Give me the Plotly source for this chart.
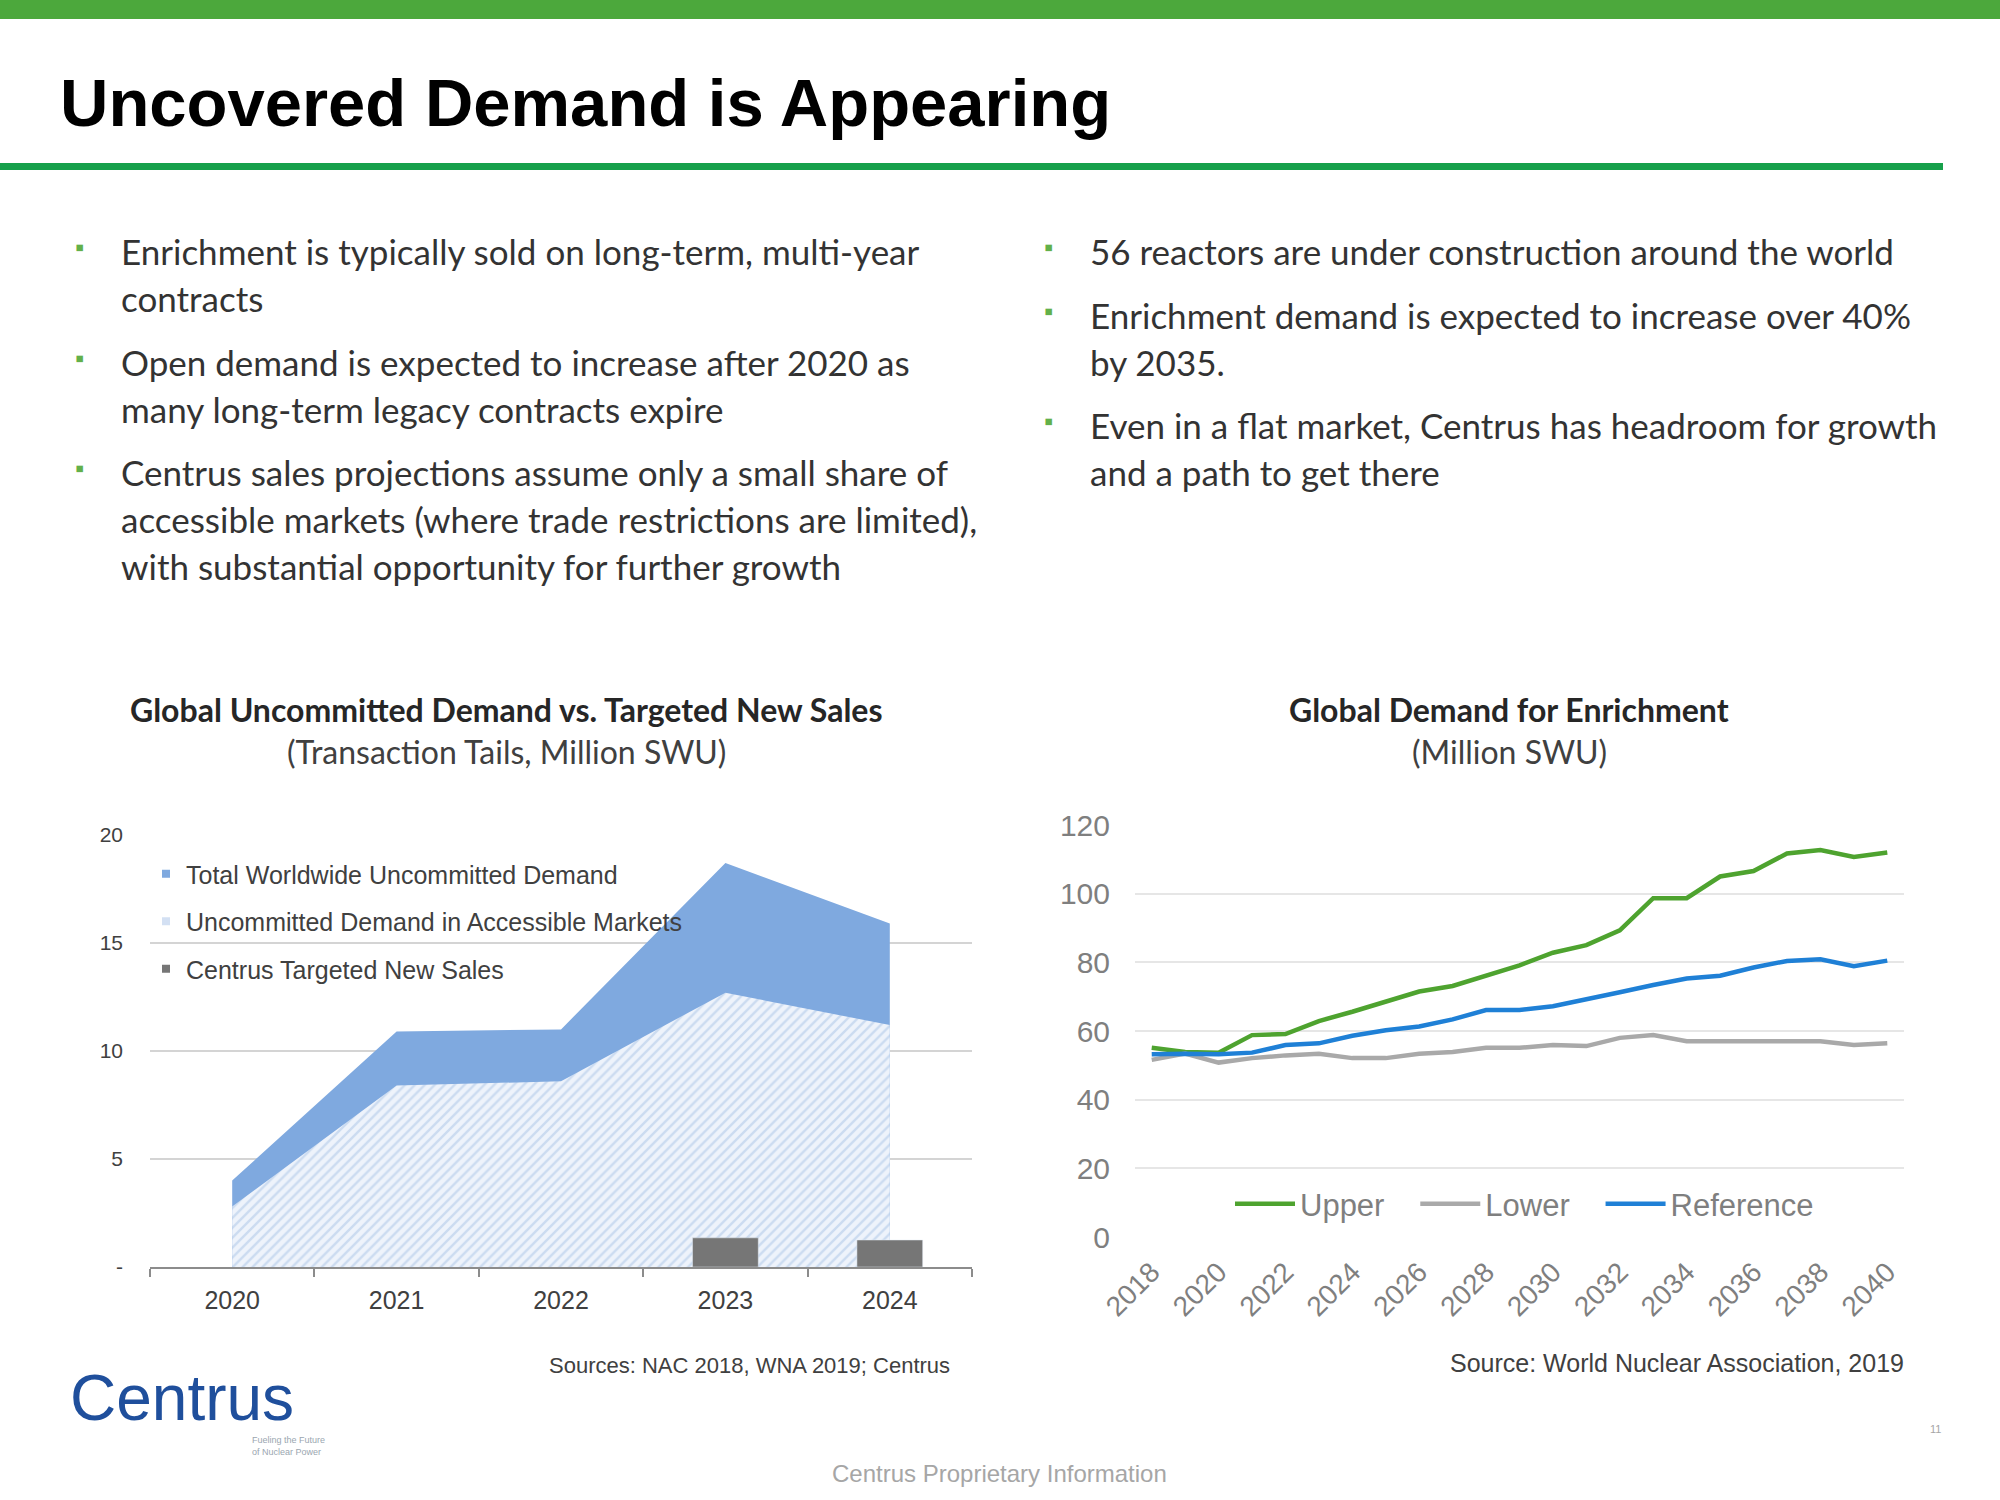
import plotly.graph_objects as go

# ---------------- data ----------------
left_years = ["2020", "2021", "2022", "2023", "2024"]
total_demand = [4.0, 10.9, 11.0, 18.7, 15.9]
accessible_demand = [2.8, 8.4, 8.6, 12.7, 11.2]
centrus_sales = [None, None, None, 1.35, 1.25]
left_yticks = [0, 5, 10, 15, 20]
left_yticktext = ["-", "5", "10", "15", "20"]

right_years = [2018, 2019, 2020, 2021, 2022, 2023, 2024, 2025, 2026, 2027, 2028, 2029,
               2030, 2031, 2032, 2033, 2034, 2035, 2036, 2037, 2038, 2039, 2040]
upper = [55.1, 53.9, 53.7, 58.8, 59.1, 62.9, 65.6, 68.5, 71.5, 73.1, 76.1, 79.1,
         82.8, 85.0, 89.3, 98.7, 98.7, 105.0, 106.6, 111.7, 112.7, 110.7, 112.0]
lower = [51.6, 53.4, 50.8, 52.1, 52.9, 53.4, 52.1, 52.1, 53.4, 53.9, 55.1, 55.1,
         55.9, 55.6, 58.0, 58.8, 57.0, 57.0, 57.0, 57.3, 57.0, 55.9, 56.4]
reference = [53.2, 53.4, 53.2, 53.7, 55.9, 56.4, 58.6, 60.2, 61.3, 63.4, 66.1, 66.1,
             67.2, 69.4, 71.3, 73.4, 75.3, 76.1, 78.5, 80.4, 80.9, 78.9, 80.5]

slide_title = "Uncovered Demand is Appearing"
left_bullet_lines = [
    ("Enrichment is typically sold on long-term, multi-year", True),
    ("contracts", False),
    ("Open demand is expected to increase after 2020 as", True),
    ("many long-term legacy contracts expire", False),
    ("Centrus sales projections assume only a small share of", True),
    ("accessible markets (where trade restrictions are limited),", False),
    ("with substantial opportunity for further growth", False),
]
left_bullet_y = [251, 298, 362, 409, 472, 519, 566]
right_bullet_lines = [
    ("56 reactors are under construction around the world", True),
    ("Enrichment demand is expected to increase over 40%", True),
    ("by 2035.", False),
    ("Even in a flat market, Centrus has headroom for growth", True),
    ("and a path to get there", False),
]
right_bullet_y = [251, 315, 362, 425, 472]

W, H = 2000, 1500
ARIAL = "Liberation Sans, Arial, sans-serif"
BODY = "Lato, Open Sans, sans-serif"
PAD = "\u00a0\u00a0\u00a0"


def px(x):
    return x / W


def py(y):
    return 1 - y / H


fig = go.Figure()

# ---------------- left chart ----------------
fig.add_trace(go.Scatter(
    x=left_years, y=total_demand, name="Total Worldwide Uncommitted Demand",
    mode="none", fill="tozeroy", fillcolor="#7fa9df", showlegend=False,
    xaxis="x", yaxis="y",
))
fig.add_trace(go.Scatter(
    x=left_years, y=accessible_demand, name="Uncommitted Demand in Accessible Markets",
    mode="none", fill="tozeroy", showlegend=False,
    fillpattern=dict(shape="/", fgcolor="#a9c3e6", bgcolor="#eef3fb", size=7, solidity=0.35),
    xaxis="x", yaxis="y",
))
fig.add_trace(go.Bar(
    x=left_years, y=centrus_sales, name="Centrus Targeted New Sales",
    marker=dict(color="#767676"), width=0.4, showlegend=False,
    xaxis="x3", yaxis="y3",
))
# legend keys (square swatches like the original)
for nm, col, grp in [("Total Worldwide Uncommitted Demand", "#7fa9df", "a"),
                     ("Uncommitted Demand in Accessible Markets", "#d3e0f3", "b"),
                     ("Centrus Targeted New Sales", "#767676", "c")]:
    fig.add_trace(go.Scatter(x=[None], y=[None], name=nm, mode="markers",
                             marker=dict(symbol="square", size=8, color=col),
                             xaxis="x", yaxis="y", legend="legend", legendgroup=grp))

# ---------------- right chart ----------------
fig.add_trace(go.Scatter(x=right_years, y=upper, name="Upper" + PAD, mode="lines",
                         line=dict(color="#4ea32f", width=4.5), xaxis="x2", yaxis="y2",
                         legend="legend2"))
fig.add_trace(go.Scatter(x=right_years, y=lower, name="Lower" + PAD, mode="lines",
                         line=dict(color="#a9a9a9", width=4.5), xaxis="x2", yaxis="y2",
                         legend="legend2"))
fig.add_trace(go.Scatter(x=right_years, y=reference, name="Reference", mode="lines",
                         line=dict(color="#1f80d6", width=4.5), xaxis="x2", yaxis="y2",
                         legend="legend2"))

left_dom_x = [px(150), px(972)]
left_dom_y = [py(1267), py(835)]
right_dom_x = [px(1135), px(1904)]
right_dom_y = [py(1237), py(825)]

annotations = []
shapes = []

# header
shapes.append(dict(type="rect", xref="paper", yref="paper", x0=0, x1=1, y0=py(19), y1=1,
                   fillcolor="#4ca83c", line=dict(width=0), layer="above"))
shapes.append(dict(type="rect", xref="paper", yref="paper", x0=0, x1=px(1943),
                   y0=py(170), y1=py(163), fillcolor="#17a04b", line=dict(width=0)))
annotations.append(dict(text=slide_title, x=px(58), y=py(102), xref="paper", yref="paper",
                        xanchor="left", yanchor="middle", showarrow=False,
                        font=dict(family=ARIAL, size=67, color="#000000", weight="bold")))

# bullets
for (txt, bullet), yy in zip(left_bullet_lines, left_bullet_y):
    annotations.append(dict(text=txt, x=px(119), y=py(yy), xref="paper", yref="paper",
                            xanchor="left", yanchor="middle", showarrow=False,
                            font=dict(family=BODY, size=35, color="#333333")))
    if bullet:
        annotations.append(dict(text="\u25aa", x=px(79), y=py(yy - 4), xref="paper", yref="paper",
                                xanchor="center", yanchor="middle", showarrow=False,
                                font=dict(family=ARIAL, size=26, color="#62b04a")))
for (txt, bullet), yy in zip(right_bullet_lines, right_bullet_y):
    annotations.append(dict(text=txt, x=px(1088), y=py(yy), xref="paper", yref="paper",
                            xanchor="left", yanchor="middle", showarrow=False,
                            font=dict(family=BODY, size=35, color="#333333")))
    if bullet:
        annotations.append(dict(text="\u25aa", x=px(1048), y=py(yy - 4), xref="paper", yref="paper",
                                xanchor="center", yanchor="middle", showarrow=False,
                                font=dict(family=ARIAL, size=26, color="#62b04a")))

# chart titles
for cx, t1, t2 in [(506, "Global Uncommitted Demand vs. Targeted New Sales", "(Transaction Tails, Million SWU)"),
                   (1509, "Global Demand for Enrichment", "(Million SWU)")]:
    annotations.append(dict(text=t1, x=px(cx), y=py(709), xref="paper", yref="paper",
                            xanchor="center", yanchor="middle", showarrow=False,
                            font=dict(family=BODY, size=32, color="#262626", weight="bold")))
    annotations.append(dict(text=t2, x=px(cx), y=py(751), xref="paper", yref="paper",
                            xanchor="center", yanchor="middle", showarrow=False,
                            font=dict(family=BODY, size=32, color="#404040")))

# sources
annotations.append(dict(text="Sources: NAC 2018, WNA 2019; Centrus", x=px(952), y=py(1365),
                        xref="paper", yref="paper", xanchor="right", yanchor="middle",
                        showarrow=False, font=dict(family=ARIAL, size=22, color="#404040")))
annotations.append(dict(text="Source: World Nuclear Association, 2019", x=px(1906), y=py(1363),
                        xref="paper", yref="paper", xanchor="right", yanchor="middle",
                        showarrow=False, font=dict(family=ARIAL, size=25, color="#404040")))

# footer
annotations.append(dict(text="Centrus Proprietary Information", x=px(999), y=py(1473),
                        xref="paper", yref="paper", xanchor="center", yanchor="middle",
                        showarrow=False, font=dict(family=ARIAL, size=24, color="#a6a6a6")))
annotations.append(dict(text="11", x=px(1935), y=py(1429), xref="paper", yref="paper",
                        xanchor="center", yanchor="middle", showarrow=False,
                        font=dict(family=ARIAL, size=11, color="#a6a6a6")))

# logo
annotations.append(dict(text="Centrus", x=px(68), y=py(1398), xref="paper", yref="paper",
                        xanchor="left", yanchor="middle", showarrow=False,
                        font=dict(family=ARIAL, size=64, color="#1f4f9c")))
annotations.append(dict(text="Fueling the Future<br>of Nuclear Power", x=px(250), y=py(1446),
                        xref="paper", yref="paper", xanchor="left", yanchor="middle",
                        showarrow=False, align="left",
                        font=dict(family=ARIAL, size=9, color="#9aa6b0")))

fig.update_layout(
    width=W, height=H,
    margin=dict(l=0, r=0, t=0, b=0, autoexpand=False),
    paper_bgcolor="white", plot_bgcolor="white",
    showlegend=True,
    xaxis=dict(domain=left_dom_x, anchor="y", type="category", categoryorder="array",
               categoryarray=left_years, range=[-0.5, 4.5], automargin=False,
               showline=True, linecolor="#8c8c8c", linewidth=2, ticks="outside",
               tickson="boundaries", ticklen=8, tickcolor="#8c8c8c", tickwidth=2,
               ticklabelstandoff=10,
               showgrid=False, tickfont=dict(family=ARIAL, size=25, color="#404040")),
    yaxis=dict(domain=left_dom_y, anchor="x", range=[0, 20], tickvals=left_yticks,
               ticktext=left_yticktext, showgrid=True, gridcolor="#d4d4d4", gridwidth=2,
               zeroline=False, ticks="", ticklabelstandoff=26, automargin=False,
               tickfont=dict(family=ARIAL, size=21, color="#404040")),
    xaxis3=dict(overlaying="x", anchor="y3", type="category", categoryorder="array",
                categoryarray=left_years, range=[-0.5, 4.5], visible=False, automargin=False),
    yaxis3=dict(overlaying="y", anchor="x3", range=[0, 20], visible=False, automargin=False),
    xaxis2=dict(domain=right_dom_x, anchor="y2", range=[2017.5, 2040.5], tick0=2018, dtick=2,
                tickangle=-45, showgrid=False, zeroline=False, showline=False, ticks="",
                automargin=False, ticklabelstandoff=12,
                tickfont=dict(family=ARIAL, size=28, color="#7f7f7f")),
    yaxis2=dict(domain=right_dom_y, anchor="x2", range=[0, 120], dtick=20, showgrid=True,
                gridcolor="#e6e6e6", gridwidth=2, zeroline=False, ticks="",
                ticklabelstandoff=24, automargin=False,
                tickfont=dict(family=ARIAL, size=30, color="#7f7f7f")),
    legend=dict(x=px(146), y=py(851), xanchor="left", yanchor="top", bgcolor="rgba(0,0,0,0)",
                traceorder="grouped", tracegroupgap=12,
                font=dict(family=ARIAL, size=25, color="#404040")),
    legend2=dict(orientation="h", x=px(1230), y=py(1204), xanchor="left", yanchor="middle",
                 bgcolor="rgba(0,0,0,0)", itemwidth=60,
                 font=dict(family=ARIAL, size=31, color="#7f7f7f")),
    annotations=annotations,
    shapes=shapes,
    barmode="overlay",
)

fig.write_html("out.html", config={"displayModeBar": False},
               post_script="document.body.style.margin='0px';")
